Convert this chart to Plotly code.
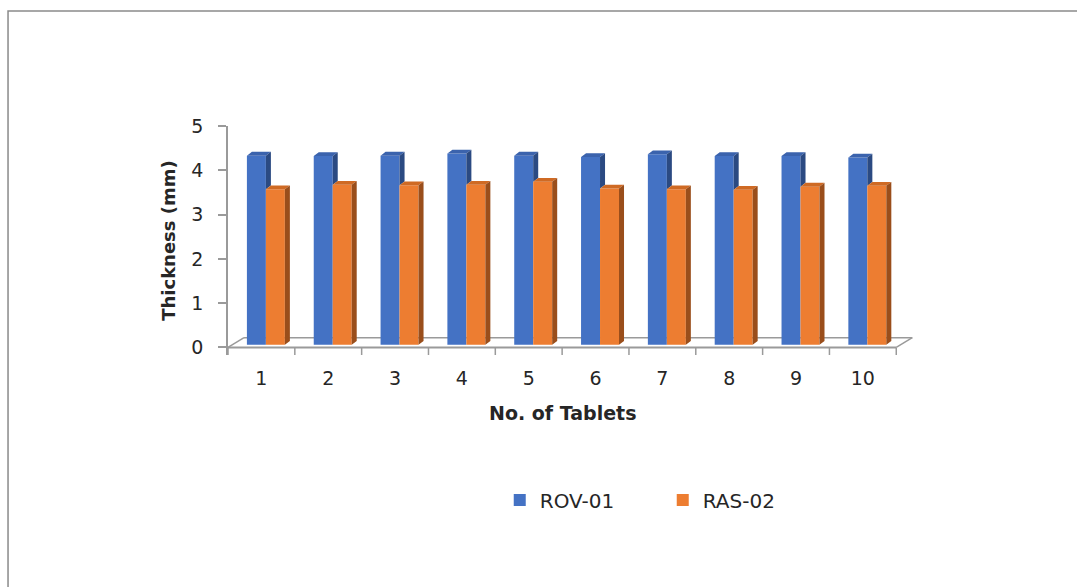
import plotly.graph_objects as go

# Tablet numbers and measured thickness (mm) for the two formulations
tablets = list(range(1, 11))
tick_labels = [str(t) for t in tablets]
y_ticks = [0, 1, 2, 3, 4, 5]
rov_01 = [4.27, 4.26, 4.27, 4.32, 4.27, 4.24, 4.30, 4.26, 4.26, 4.23]
ras_02 = [3.51, 3.61, 3.60, 3.61, 3.68, 3.53, 3.51, 3.50, 3.57, 3.59]

# Face colours for the pseudo-3D columns
BLUE, BLUE_TOP, BLUE_SIDE = "#4472C4", "#3B63AD", "#2B4A82"
ORANGE, ORANGE_TOP, ORANGE_SIDE = "#ED7D31", "#CF6A24", "#9A4E1B"
GRAY = "#9A9A9A"
FONT = "DejaVu Sans"

# Column geometry in data units
W = 0.284        # width of one column
SHIFT = 0.067    # columns sit a little into the floor depth
LIFT = 0.061
DX, DY = 0.075, 0.085          # column depth (side / top faces)
FLOOR_DX, FLOOR_DY = 0.24, 0.22  # floor depth
Y_LOW = -0.17


def polygons(shapes):
    xs, ys = [], []
    for pts in shapes:
        for x, y in pts + [pts[0]]:
            xs.append(x)
            ys.append(y)
        xs.append(None)
        ys.append(None)
    return xs, ys


def face_trace(shapes, color):
    xs, ys = polygons(shapes)
    return go.Scatter(x=xs, y=ys, mode="lines", fill="toself", fillcolor=color,
                      line=dict(width=0, color=color), hoverinfo="skip",
                      showlegend=False)


rov_top, rov_side, ras_top, ras_side = [], [], [], []
for c, v, r in zip(tablets, rov_01, ras_02):
    # ROV-01 column (left)
    xl, xr, t = c + SHIFT - W, c + SHIFT, LIFT + v
    rov_top.append([(xl, t), (xr, t), (xr + DX, t + DY), (xl + DX, t + DY)])
    b = LIFT + r  # lower part of the side face is hidden behind the RAS-02 column
    rov_side.append([(xr, b), (xr, t), (xr + DX, t + DY), (xr + DX, b + DY)])
    # RAS-02 column (right)
    xl, xr, t = c + SHIFT, c + SHIFT + W, LIFT + r
    ras_top.append([(xl, t), (xr, t), (xr + DX, t + DY), (xl + DX, t + DY)])
    ras_side.append([(xr, LIFT), (xr, t), (xr + DX, t + DY), (xr + DX, LIFT + DY)])

fig = go.Figure()
fig.add_trace(go.Bar(x=tablets, y=rov_01, base=LIFT, width=W, offset=SHIFT - W,
                     name="ROV-01", marker=dict(color=BLUE, line=dict(width=0))))
fig.add_trace(go.Bar(x=tablets, y=ras_02, base=LIFT, width=W, offset=SHIFT,
                     name="RAS-02", marker=dict(color=ORANGE, line=dict(width=0))))
fig.add_trace(face_trace(rov_top, BLUE_TOP))
fig.add_trace(face_trace(rov_side, BLUE_SIDE))
fig.add_trace(face_trace(ras_top, ORANGE_TOP))
fig.add_trace(face_trace(ras_side, ORANGE_SIDE))

# Floor outline and category tick marks
x0, x1 = tablets[0] - 0.5, tablets[-1] + 0.5
shapes = [
    dict(type="line", x0=x0, y0=0, x1=x1, y1=0, line=dict(color=GRAY, width=2)),
    dict(type="line", x0=x0 + FLOOR_DX, y0=FLOOR_DY, x1=x1 + FLOOR_DX, y1=FLOOR_DY,
         line=dict(color=GRAY, width=1.5)),
    dict(type="line", x0=x0, y0=0, x1=x0 + FLOOR_DX, y1=FLOOR_DY,
         line=dict(color=GRAY, width=1.5)),
    dict(type="line", x0=x1, y0=0, x1=x1 + FLOOR_DX, y1=FLOOR_DY,
         line=dict(color=GRAY, width=1.5)),
]
for k in range(len(tablets) + 1):
    bx = x0 + k
    shapes.append(dict(type="line", x0=bx, y0=0, x1=bx, y1=Y_LOW,
                       line=dict(color=GRAY, width=1.5)))
for s in shapes:
    s.update(xref="x", yref="y", layer="below")

# Outer chart frame
shapes.append(dict(type="rect", xref="paper", yref="paper",
                   x0=-0.3165, y0=-1.5, x1=1.6, y1=1.502,
                   line=dict(color="#8A8A8A", width=1.5), layer="above"))

fig.update_layout(
    width=1077, height=587,
    margin=dict(l=228, r=154, t=126, b=232),
    paper_bgcolor="white", plot_bgcolor="white",
    barmode="overlay",
    font=dict(family=FONT, size=19, color="#262626"),
    shapes=shapes,
    showlegend=True,
    legend=dict(orientation="h", x=0.391, y=-0.633, xanchor="left", yanchor="middle",
                font=dict(size=20, color="#262626"), itemwidth=30, entrywidth=118,
                bgcolor="rgba(0,0,0,0)"),
    annotations=[dict(text="<b>No. of Tablets</b>", x=5.5, y=-0.253, xref="x",
                      yref="paper", xanchor="center", yanchor="middle",
                      showarrow=False, font=dict(size=19, family=FONT, color="#262626"))],
)
fig.update_xaxes(range=[x0, x1 + 0.4], tickvals=tablets, ticktext=tick_labels,
                 ticks="", showline=False, showgrid=False, zeroline=False,
                 ticklabelstandoff=10, fixedrange=True)
fig.update_yaxes(range=[Y_LOW, 5], tickvals=y_ticks, ticks="outside", ticklen=8,
                 tickcolor=GRAY, tickwidth=1.5, showline=True, linecolor=GRAY,
                 linewidth=1.5, showgrid=False, zeroline=False, ticklabelstandoff=11,
                 title=dict(text="<b>Thickness (mm)</b>", font=dict(size=18), standoff=11),
                 fixedrange=True)

fig.write_html("out.html")
